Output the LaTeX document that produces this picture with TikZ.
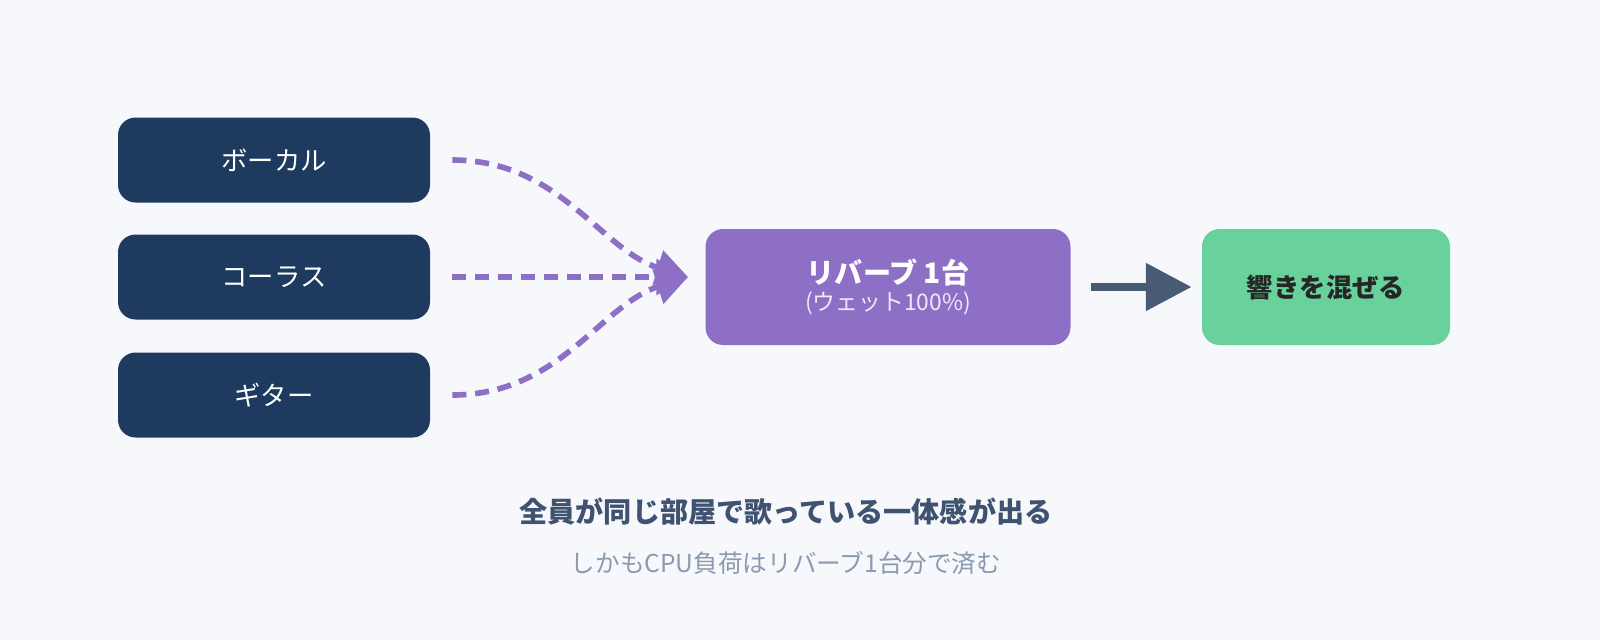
\documentclass[tikz,border=0pt]{standalone}
\usepackage{fontspec}
\newfontfamily\jp{Noto Sans CJK JP}
\usetikzlibrary{arrows.meta}
\definecolor{bg}{HTML}{F7F8FC}
\definecolor{navy}{HTML}{1E3A5F}
\definecolor{purp}{HTML}{8E6FC6}
\definecolor{grn}{HTML}{68D19C}
\definecolor{slate}{HTML}{475B75}
\definecolor{ttl}{HTML}{3F5270}
\definecolor{sub}{HTML}{8A9AB0}
\begin{document}
\begin{tikzpicture}[x=0.02cm,y=-0.02cm,font=\jp,
  src/.style={fill=navy,rounded corners=10pt,minimum width=312*0.02cm,minimum height=85*0.02cm,text=white,font=\jp\fontsize{15}{18}\selectfont},
  flow/.style={purp,line width=3.2pt,dash pattern=on 8pt off 5pt,-{Triangle[length=18pt,width=20pt]}}]
\fill[bg] (0,0) rectangle (1600,640);
\useasboundingbox (0,0) rectangle (1600,640);
\node[src] (v) at (274,160) {ボーカル};
\node[src] (c) at (274,277) {コーラス};
\node[src] (g) at (274,395) {ギター};
\node[fill=purp,rounded corners=10pt,minimum width=365*0.02cm,minimum height=116*0.02cm,align=center,text=white] (r) at (888,287)
 {{\fontsize{16}{20}\selectfont\bfseries リバーブ 1台}\\[2pt]{\fontsize{13}{16}\selectfont\color{white!85!purp}(ウェット100\%)}};
\node[fill=grn,rounded corners=10pt,minimum width=248*0.02cm,minimum height=116*0.02cm,text=black!85,font=\jp\bfseries\fontsize{15}{18}\selectfont] (m) at (1326,287) {響きを混ぜる};
\coordinate (t) at (688,277);
\draw[flow] ([xshift=0.44cm]v.east) .. controls (560,160) and (600,250) .. (t);
\draw[flow] ([xshift=0.44cm]c.east) -- (t);
\draw[flow] ([xshift=0.44cm]g.east) .. controls (560,395) and (600,305) .. (t);
\draw[slate,line width=5pt,-{Triangle[length=26pt,width=26pt]}] ([xshift=0.4cm]r.east) -- ([xshift=-0.2cm]m.west);
\node[text=ttl,font=\jp\bfseries\fontsize{16}{20}\selectfont] (h) at (786,512) {全員が同じ部屋で歌っている一体感が出る};
\node[text=sub,font=\jp\fontsize{14}{18}\selectfont] (s) at (786,563) {しかもCPU負荷はリバーブ1台分で済む};
\end{tikzpicture}
\end{document}
